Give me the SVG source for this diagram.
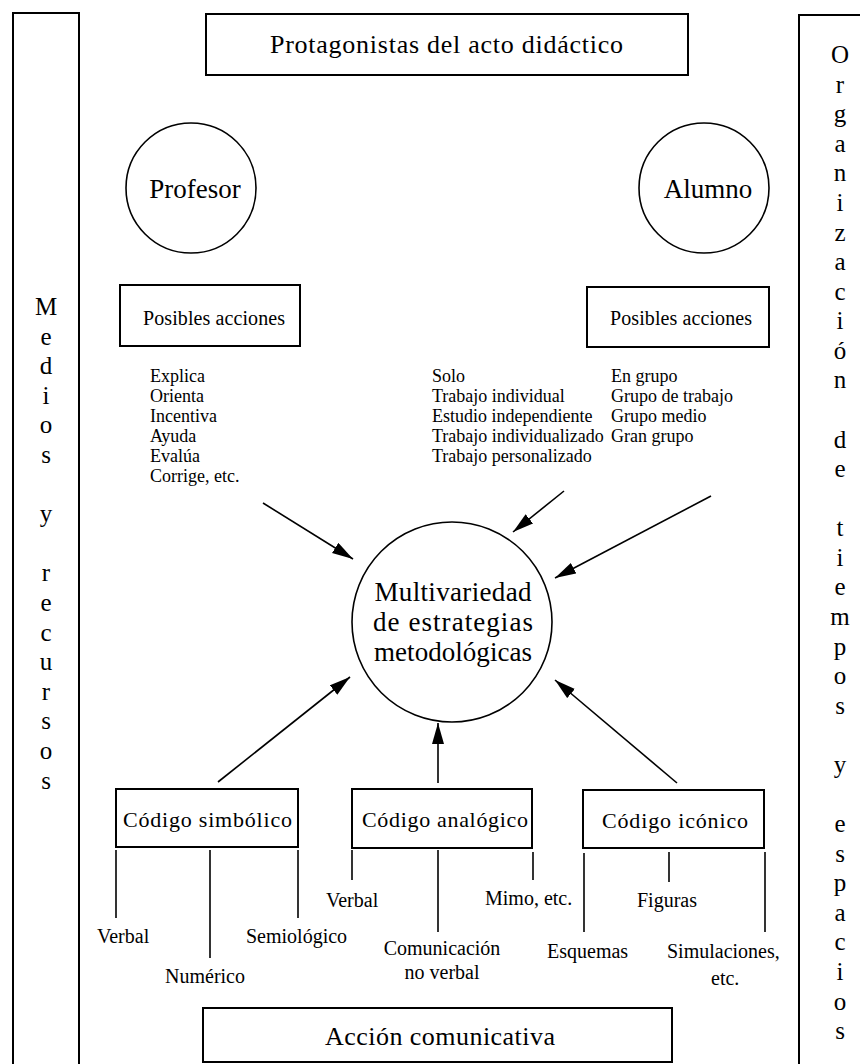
<svg xmlns="http://www.w3.org/2000/svg" width="860" height="1064" viewBox="0 0 860 1064">
<style>
text{font-family:"Liberation Serif","Times New Roman",serif;fill:#000}
.box{fill:#fff;stroke:#000;stroke-width:2}
.circ{fill:#fff;stroke:#000;stroke-width:1.6}
.ln{stroke:#000;stroke-width:1.6;fill:none}
.big{font-size:26px}
.mid{font-size:27px}
.pa{font-size:20px}
.li{font-size:18px}
.sub{font-size:20px}
.code{font-size:22px}
.col{font-size:25px;text-anchor:middle}
.c{text-anchor:middle}
</style>
<defs>
<marker id="ah" markerUnits="userSpaceOnUse" markerWidth="22" markerHeight="14" refX="21" refY="6" orient="auto">
<path d="M0,0 L21,6 L0,12 z" fill="#000"/>
</marker>
</defs>
<rect width="860" height="1064" fill="#fff"/>

<g id="medios">
<rect class="box" x="13" y="13" width="66" height="1070"/>
<text class="col" x="46" y="315">M</text>
<text class="col" x="46" y="344.6">e</text>
<text class="col" x="46" y="374.2">d</text>
<text class="col" x="46" y="403.8">i</text>
<text class="col" x="46" y="433.4">o</text>
<text class="col" x="46" y="463">s</text>
<text class="col" x="46" y="522.2">y</text>
<text class="col" x="46" y="581.4">r</text>
<text class="col" x="46" y="611">e</text>
<text class="col" x="46" y="640.6">c</text>
<text class="col" x="46" y="670.2">u</text>
<text class="col" x="46" y="699.8">r</text>
<text class="col" x="46" y="729.4">s</text>
<text class="col" x="46" y="759">o</text>
<text class="col" x="46" y="788.6">s</text>
</g>

<g id="organizacion">
<rect class="box" x="799" y="15" width="80" height="1070"/>
<text class="col" x="840" y="63">O</text>
<text class="col" x="840" y="92.6">r</text>
<text class="col" x="840" y="122.2">g</text>
<text class="col" x="840" y="151.7">a</text>
<text class="col" x="840" y="181.3">n</text>
<text class="col" x="840" y="210.9">i</text>
<text class="col" x="840" y="240.5">z</text>
<text class="col" x="840" y="270.1">a</text>
<text class="col" x="840" y="299.6">c</text>
<text class="col" x="840" y="329.2">i</text>
<text class="col" x="840" y="358.8">ó</text>
<text class="col" x="840" y="388.4">n</text>
<text class="col" x="840" y="447.5">d</text>
<text class="col" x="840" y="477.1">e</text>
<text class="col" x="840" y="536.3">t</text>
<text class="col" x="840" y="565.9">i</text>
<text class="col" x="840" y="595.4">e</text>
<text class="col" x="840" y="625">m</text>
<text class="col" x="840" y="654.6">p</text>
<text class="col" x="840" y="684.2">o</text>
<text class="col" x="840" y="713.8">s</text>
<text class="col" x="840" y="772.9">y</text>
<text class="col" x="840" y="832.1">e</text>
<text class="col" x="840" y="861.7">s</text>
<text class="col" x="840" y="891.2">p</text>
<text class="col" x="840" y="920.8">a</text>
<text class="col" x="840" y="950.4">c</text>
<text class="col" x="840" y="980">i</text>
<text class="col" x="840" y="1009.5">o</text>
<text class="col" x="840" y="1039">s</text>
</g>

<g id="protagonistas">
<rect class="box" x="206" y="14" width="482" height="61"/>
<text class="big" x="270" y="53" textLength="353" lengthAdjust="spacing">Protagonistas del acto didáctico</text>
</g>

<g id="profesor">
<circle class="circ" cx="191" cy="188" r="65"/>
<text class="mid c" x="195" y="198">Profesor</text>
</g>

<g id="alumno">
<circle class="circ" cx="704" cy="188" r="65"/>
<text class="mid c" x="708" y="198">Alumno</text>
</g>

<g id="acciones-profesor">
<rect class="box" x="120" y="285" width="180" height="61"/>
<text class="pa" x="143" y="325" textLength="142" lengthAdjust="spacing">Posibles acciones</text>
</g>

<g id="acciones-alumno">
<rect class="box" x="587" y="287" width="182" height="60"/>
<text class="pa" x="610" y="325" textLength="142" lengthAdjust="spacing">Posibles acciones</text>
</g>

<g id="lista-profesor">
<text class="li" x="150" y="382">Explica</text>
<text class="li" x="150" y="402">Orienta</text>
<text class="li" x="150" y="422">Incentiva</text>
<text class="li" x="150" y="442">Ayuda</text>
<text class="li" x="150" y="462">Evalúa</text>
<text class="li" x="150" y="482">Corrige, etc.</text>
</g>

<g id="lista-solo">
<text class="li" x="432" y="382">Solo</text>
<text class="li" x="432" y="402">Trabajo individual</text>
<text class="li" x="432" y="422">Estudio independiente</text>
<text class="li" x="432" y="442">Trabajo individualizado</text>
<text class="li" x="432" y="462">Trabajo personalizado</text>
</g>

<g id="lista-grupo">
<text class="li" x="611" y="382">En grupo</text>
<text class="li" x="611" y="402">Grupo de trabajo</text>
<text class="li" x="611" y="422">Grupo medio</text>
<text class="li" x="611" y="442">Gran grupo</text>
</g>

<g id="multivariedad">
<circle class="circ" cx="452" cy="622" r="100"/>
<text class="mid c" x="453" y="601" textLength="157" lengthAdjust="spacing">Multivariedad</text>
<text class="mid c" x="453" y="631" textLength="160" lengthAdjust="spacing">de estrategias</text>
<text class="mid c" x="453" y="661" textLength="158" lengthAdjust="spacing">metodológicas</text>
</g>

<g id="codigo-simbolico">
<rect class="box" x="116" y="789" width="182" height="58"/>
<text class="code" x="123" y="827" textLength="169" lengthAdjust="spacing">Código simbólico</text>
<text class="sub" x="97" y="943">Verbal</text>
<text class="sub" x="165" y="983">Numérico</text>
<text class="sub" x="246" y="943">Semiológico</text>
</g>

<g id="codigo-analogico">
<rect class="box" x="352" y="789" width="180" height="59"/>
<text class="code" x="362" y="827" textLength="166" lengthAdjust="spacing">Código analógico</text>
<text class="sub" x="326" y="907">Verbal</text>
<text class="sub" x="485" y="905">Mimo, etc.</text>
<text class="sub c" x="442" y="955">Comunicación</text>
<text class="sub c" x="442" y="979">no verbal</text>
</g>

<g id="codigo-iconico">
<rect class="box" x="583" y="790" width="181" height="58"/>
<text class="code" x="602" y="828" textLength="146" lengthAdjust="spacing">Código icónico</text>
<text class="sub" x="637" y="907">Figuras</text>
<text class="sub" x="547" y="958">Esquemas</text>
<text class="sub" x="667" y="958">Simulaciones,</text>
<text class="sub" x="711" y="985">etc.</text>
</g>

<g id="accion">
<rect class="box" x="203" y="1008" width="469" height="54"/>
<text class="big" x="325" y="1045" textLength="230" lengthAdjust="spacing">Acción comunicativa</text>
</g>

<g id="connectors">
<line class="ln" x1="263" y1="503" x2="353" y2="559" marker-end="url(#ah)"/>
<line class="ln" x1="564" y1="491" x2="513" y2="532" marker-end="url(#ah)"/>
<line class="ln" x1="711" y1="496" x2="555" y2="578" marker-end="url(#ah)"/>
<line class="ln" x1="218" y1="782" x2="350" y2="677" marker-end="url(#ah)"/>
<line class="ln" x1="438" y1="783" x2="438" y2="723" marker-end="url(#ah)"/>
<line class="ln" x1="677" y1="783" x2="555" y2="680" marker-end="url(#ah)"/>
<line class="ln" x1="116" y1="850" x2="116" y2="918"/>
<line class="ln" x1="210" y1="850" x2="210" y2="958"/>
<line class="ln" x1="298" y1="850" x2="298" y2="918"/>
<line class="ln" x1="352" y1="850" x2="352" y2="880"/>
<line class="ln" x1="438" y1="850" x2="438" y2="932"/>
<line class="ln" x1="533" y1="852" x2="533" y2="880"/>
<line class="ln" x1="584" y1="853" x2="584" y2="932"/>
<line class="ln" x1="669" y1="852" x2="669" y2="882"/>
<line class="ln" x1="765" y1="852" x2="765" y2="932"/>
</g>
</svg>
